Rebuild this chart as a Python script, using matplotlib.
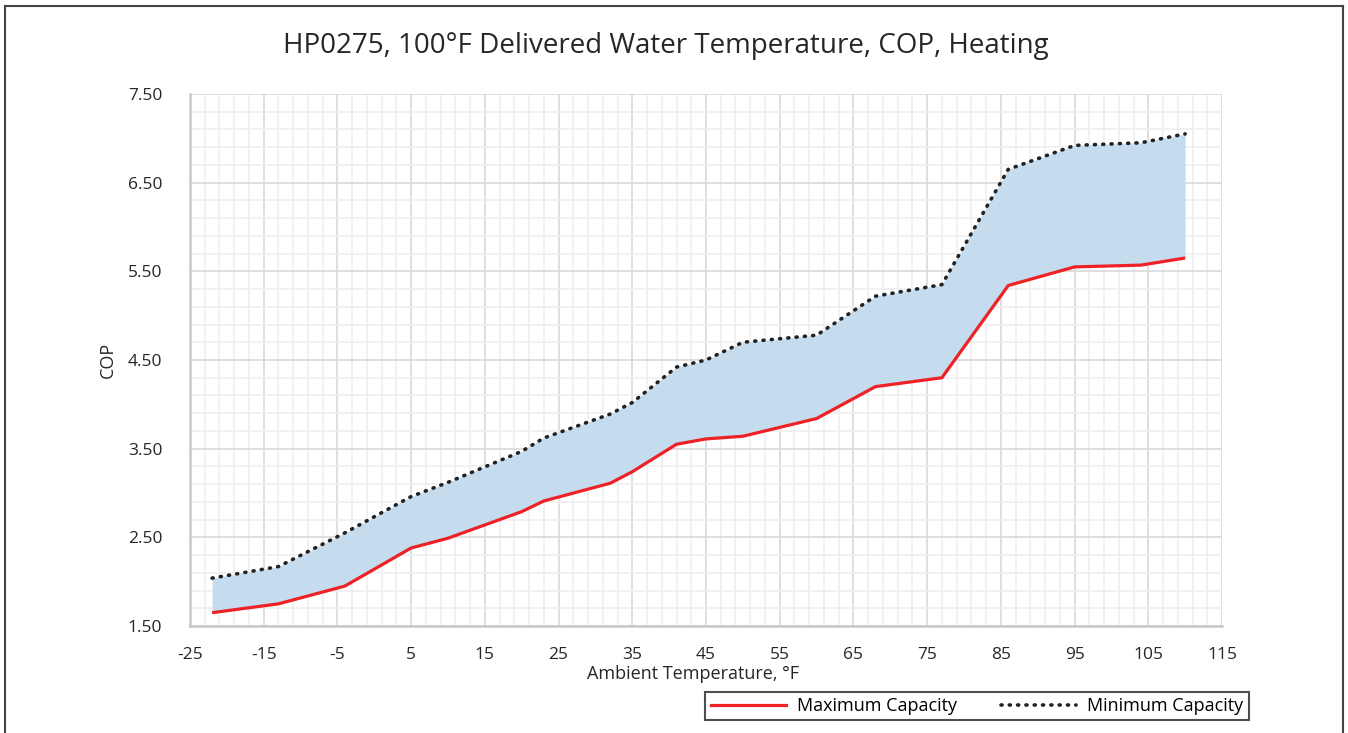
import matplotlib.pyplot as plt
from matplotlib.ticker import MultipleLocator, FormatStrFormatter
from matplotlib.lines import Line2D

plt.rcParams['font.family'] = ['Open Sans', 'DejaVu Sans']
plt.rcParams['axes.unicode_minus'] = False

ambient = [-22, -13, -4, 5, 10, 20, 23, 32, 35, 41, 45, 50, 60, 68, 77, 86, 95, 104, 110]
cop_max_cap = [1.65, 1.75, 1.95, 2.38, 2.49, 2.79, 2.91, 3.11, 3.24, 3.55, 3.61, 3.64,
               3.84, 4.20, 4.30, 5.34, 5.55, 5.57, 5.65]
cop_min_cap = [2.04, 2.17, 2.55, 2.96, 3.12, 3.47, 3.62, 3.89, 4.02, 4.42, 4.50, 4.70,
               4.78, 5.22, 5.35, 6.65, 6.92, 6.95, 7.05]

dots = (0, (0.3, 2.0))

fig = plt.figure(figsize=(13.48, 7.33), dpi=100)
ax = fig.add_axes([190 / 1348, 1 - 626 / 733, 1032 / 1348, 532 / 733])

ax.fill_between(ambient, cop_max_cap, cop_min_cap, color='#c5dcef', lw=0, zorder=2)
ax.plot(ambient, cop_max_cap, color='#ee2126', lw=2.3, zorder=3, solid_capstyle='butt')
ax.plot(ambient, cop_min_cap, color='#222222', lw=2.6, ls=dots,
        dash_capstyle='round', zorder=3)

ax.set_xlim(-25, 115)
ax.set_ylim(1.5, 7.5)
ax.xaxis.set_major_locator(MultipleLocator(10, offset=5))
ax.xaxis.set_minor_locator(MultipleLocator(2, offset=1))
ax.yaxis.set_major_locator(MultipleLocator(1, offset=0.5))
ax.yaxis.set_minor_locator(MultipleLocator(0.2, offset=0.1))
ax.yaxis.set_major_formatter(FormatStrFormatter('%.2f'))
ax.grid(which='major', color='#d9d9d9', lw=1.2, zorder=1)
ax.grid(which='minor', color='#efefef', lw=1.2, zorder=0)
ax.set_axisbelow(True)
ax.tick_params(which='both', length=0, labelsize=12.5, colors='#262626')
ax.tick_params(axis='y', pad=20)
ax.tick_params(axis='x', pad=15)
for s in ['top', 'right']:
    ax.spines[s].set_visible(False)
for s in ['left', 'bottom']:
    ax.spines[s].set_color('#c8c8c8')
    ax.spines[s].set_linewidth(1.8)

ax.set_xlabel('Ambient Temperature, °F', fontsize=13, color='#262626')
ax.xaxis.set_label_coords(0.487, -0.074)
ax.set_ylabel('COP', fontsize=13, color='#262626', labelpad=8)
fig.text(666 / 1348, 1 - 46 / 733, 'HP0275, 100°F Delivered Water Temperature, COP, Heating',
         ha='center', va='center', fontsize=20, color='#262626')

handles = [Line2D([], [], color='#ee2126', lw=2.3),
           Line2D([], [], color='#222222', lw=2.6, ls=dots, dash_capstyle='round')]
leg = fig.legend(handles, ['Maximum Capacity', 'Minimum Capacity'], ncol=2,
                 loc='center', bbox_to_anchor=(977 / 1348, 1 - 706 / 733),
                 fontsize=13, frameon=True, fancybox=False, handlelength=4.2,
                 columnspacing=2.4, borderpad=0.3, handletextpad=0.6,
                 borderaxespad=0)
leg.get_frame().set_edgecolor('#222222')
leg.get_frame().set_linewidth(1.5)

# outer chart border
for xs, ys in [([0.004, 0.004], [0, 0.992]), ([0.004, 0.9965], [0.992, 0.992]),
               ([0.9965, 0.9965], [0, 0.992])]:
    fig.add_artist(Line2D(xs, ys, color='#444444', lw=1.5, transform=fig.transFigure))

fig.savefig('out.png', dpi=100)
